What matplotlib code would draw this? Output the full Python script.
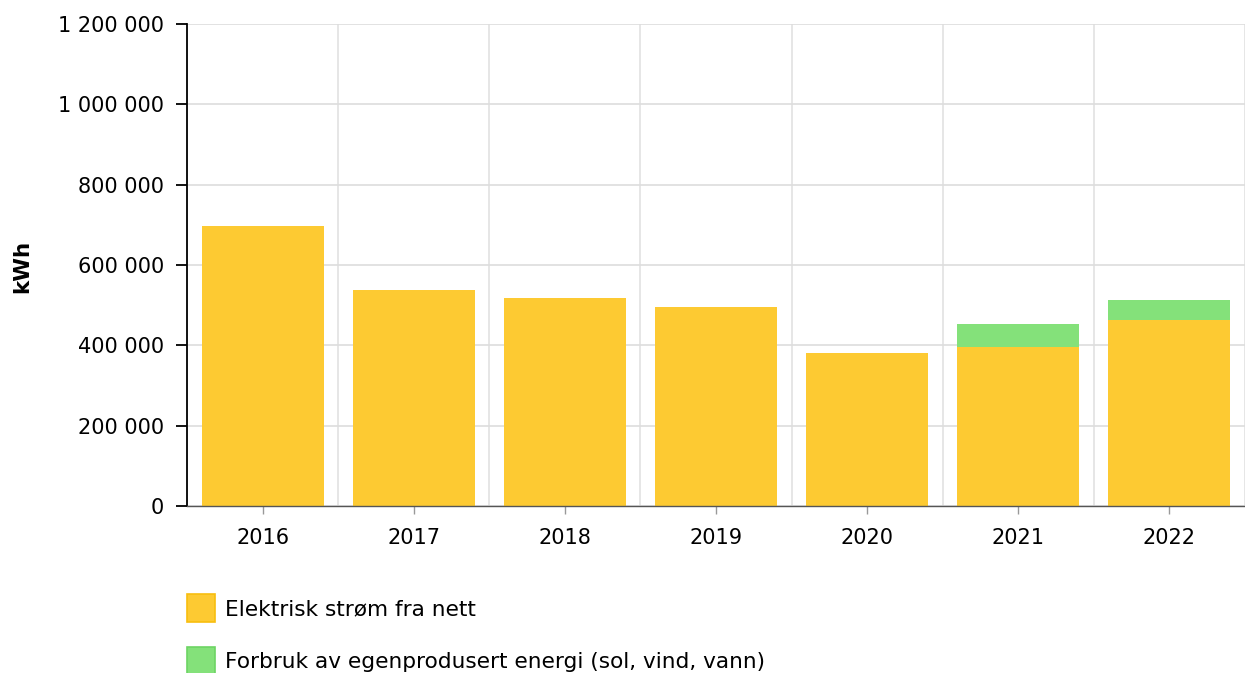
import matplotlib
matplotlib.use("Agg")
import matplotlib.pyplot as plt
from matplotlib.ticker import FuncFormatter, MultipleLocator
import numpy as np

years = ["2016", "2017", "2018", "2019", "2020", "2021", "2022"]
grid_power = [697000, 539000, 517000, 494500, 380000, 397000, 462000]
own_power = [0, 0, 0, 0, 0, 55000, 50000]
labels = ["Elektrisk strøm fra nett", "Forbruk av egenprodusert energi (sol, vind, vann)"]
ylabel = "kWh"

yellow = "#FDCA32"
green = "#84E17A"

plt.rcParams['font.family'] = ['DejaVu Sans']
fig = plt.figure(figsize=(12.45, 6.73), dpi=100)
ax = fig.add_axes([187/1245, 1-506/673, (1245-187)/1245, (506-24)/673])

x = np.arange(len(years))
b1 = ax.bar(x, grid_power, width=0.807, color=yellow, zorder=2, linewidth=0)
b2 = ax.bar(x, own_power, bottom=grid_power, width=0.807, color=green, zorder=2, linewidth=0)

ax.set_xlim(-0.5, len(years)-0.5)
ax.set_ylim(0, 1200000)
ax.yaxis.set_major_locator(MultipleLocator(200000))
ax.yaxis.set_major_formatter(FuncFormatter(lambda v, p: f"{int(v):,}".replace(",", " ")))
ax.set_xticks(x)
ax.set_xticklabels(years)
ax.set_xticks(np.arange(len(years)+1)-0.5, minor=True)

ax.grid(True, axis='y', which='major', color='#dddddd', linewidth=1.2, zorder=0)
ax.grid(True, axis='x', which='minor', color='#e2e2e2', linewidth=1.2, zorder=0)
ax.grid(False, axis='x', which='major')

for s in ['top', 'right']:
    ax.spines[s].set_visible(False)
ax.spines['left'].set_color('#000000')
ax.spines['left'].set_linewidth(1.3)
ax.spines['bottom'].set_color('#555555')
ax.spines['bottom'].set_linewidth(1.0)

ax.tick_params(axis='y', length=8, width=1.3, color='#000000', labelsize=15, pad=8.5)
ax.tick_params(axis='x', which='major', length=6, width=1, color='#999999', labelsize=15, pad=10)
ax.tick_params(axis='x', which='minor', length=0)

fig.text(22/1245, 1-266/673, ylabel, rotation=90, fontsize=15.5, fontweight='bold', ha='center', va='center')

leg = fig.legend([b1, b2], labels, loc='upper left', bbox_to_anchor=(187/1245, 1-594/673),
                 frameon=False, fontsize=15.6, handlelength=1.3, handleheight=1.6,
                 handletextpad=0.45, labelspacing=1.15, borderaxespad=0, borderpad=0)
for h, ec in zip(leg.legend_handles, ['#F8BE0F', '#6DD464']):
    h.set_edgecolor(ec)
    h.set_linewidth(1.2)

fig.savefig("out.png", dpi=100)
